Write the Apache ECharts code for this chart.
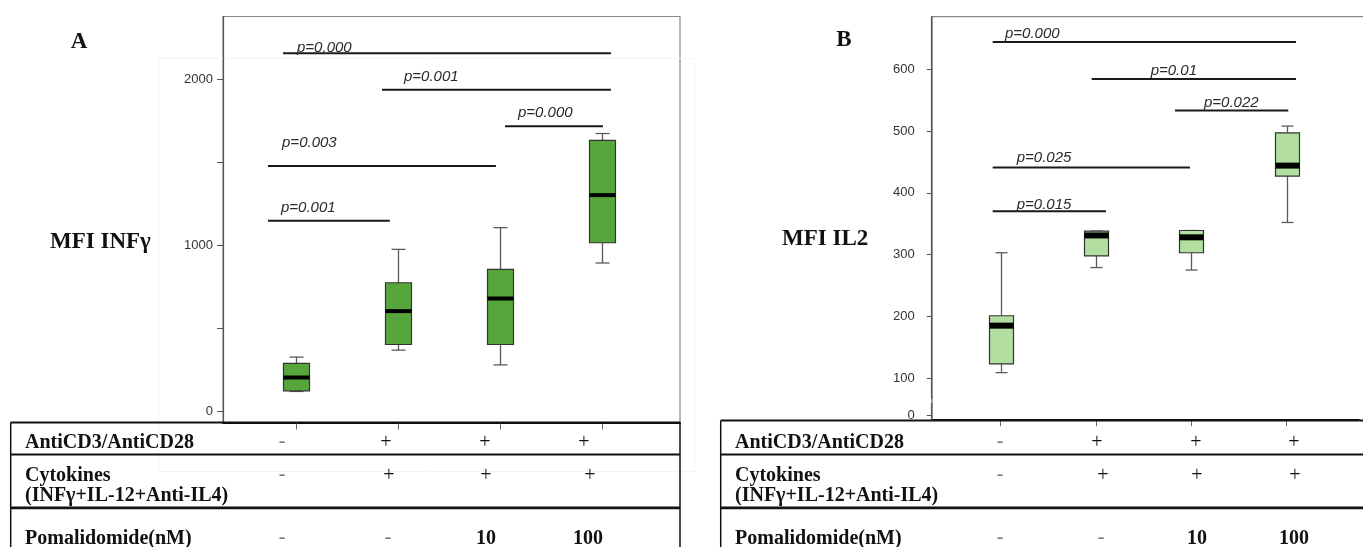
<!DOCTYPE html>
<html><head><meta charset="utf-8">
<script src="https://cdn.jsdelivr.net/npm/echarts@6/dist/echarts.min.js"></script>
<style>html,body{margin:0;padding:0;background:#fff}#c{width:1363px;height:547px}</style>
</head><body><div id="c"></div>
<script>
// ---------- data ----------
const categories = ['Unstimulated', 'AntiCD3/AntiCD28 + Cytokines', 'Pomalidomide 10 nM', 'Pomalidomide 100 nM'];

// Panel A: MFI INFγ (box statistics: min, q1, median, q3, max)
const infgMin = [121, 370, 281, 895];
const infgQ1  = [125, 404, 404, 1017];
const infgMed = [205, 605, 681, 1304];
const infgQ3  = [290, 776, 856, 1634];
const infgMax = [328, 977, 1108, 1675];

// Panel B: MFI IL2
const il2Min = [109, 279, 275, 352];
const il2Q1  = [123, 298, 303, 427];
const il2Med = [185, 331, 328, 444];
const il2Q3  = [201, 338, 339, 497];
const il2Max = [303, 338, 339, 508];

// axis ticks / labels
const yTicksA  = [0, 500, 1000, 1500, 2000];
const yLabelsA = [0, 1000, 2000];
const yTicksB  = [0, 100, 200, 300, 400, 500, 600];
const xTicks   = [1, 2, 3, 4];

// significance brackets (in data units: group position & value)
const pTextA  = ['p=0.000', 'p=0.001', 'p=0.000', 'p=0.003', 'p=0.001'];
const pFromA  = [0.873, 1.843, 3.049, 0.725, 0.725];
const pToA    = [4.088, 4.088, 4.010, 2.960, 1.920];
const pLevelA = [2158, 1938, 1719, 1480, 1149];
const pLabXA  = [1.010, 2.059, 3.176, 0.863, 0.853];
const pLabYA  = [2190, 2015, 1798, 1617, 1226];

const pTextB  = ['p=0.000', 'p=0.01', 'p=0.022', 'p=0.025', 'p=0.015'];
const pFromB  = [0.916, 1.955, 2.829, 0.916, 0.916];
const pToB    = [4.099, 4.099, 4.018, 2.986, 2.105];
const pLevelB = [644, 584, 533, 441, 370];
const pLabXB  = [1.045, 2.574, 3.133, 1.168, 1.168];
const pLabYB  = [658, 597, 546, 457, 381];

// condition table
const rowLabels    = ['AntiCD3/AntiCD28', 'Cytokines\n(INFγ+IL-12+Anti-IL4)', 'Pomalidomide(nM)'];
const antiCD3      = ['-', '+', '+', '+'];
const cytokines    = ['-', '+', '+', '+'];
const pomalidomide = ['-', '-', '10', '100'];

// ---------- layout ----------
const SANS = '"Liberation Sans", Arial, sans-serif';
const SERIF = '"Liberation Serif", "Times New Roman", serif';

const chart = echarts.init(document.getElementById('c'), null, {renderer: 'canvas'});

function boxData(mn, q1, md, q3, mx) {
  return categories.map((c, i) => [i + 1, mn[i], q1[i], md[i], q3[i], mx[i]]);
}
function boxRenderer(boxW, capW, medH, fill) {
  return function (params, api) {
    const x = api.value(0);
    const pLo = api.coord([x, api.value(1)]);
    const pQ1 = api.coord([x, api.value(2)]);
    const pMd = api.coord([x, api.value(3)]);
    const pQ3 = api.coord([x, api.value(4)]);
    const pHi = api.coord([x, api.value(5)]);
    const cx = Math.round(pLo[0]) + 0.5;
    const wl = {stroke: '#5a5a5a', lineWidth: 1.3};
    return {type: 'group', children: [
      {type: 'line', shape: {x1: cx, y1: pHi[1], x2: cx, y2: pQ3[1]}, style: wl},
      {type: 'line', shape: {x1: cx, y1: pQ1[1], x2: cx, y2: pLo[1]}, style: wl},
      {type: 'line', shape: {x1: cx - capW / 2, y1: pHi[1], x2: cx + capW / 2, y2: pHi[1]}, style: wl},
      {type: 'line', shape: {x1: cx - capW / 2, y1: pLo[1], x2: cx + capW / 2, y2: pLo[1]}, style: wl},
      {type: 'rect', shape: {x: cx - boxW / 2, y: pQ3[1], width: boxW, height: pQ1[1] - pQ3[1]},
        style: {fill: fill, stroke: '#333', lineWidth: 1.2}},
      {type: 'rect', shape: {x: cx - boxW / 2, y: pMd[1] - medH / 2, width: boxW, height: medH},
        style: {fill: '#000'}}
    ]};
  };
}
function bracketData(from, to, level, lx, ly) {
  return from.map((f, i) => [f, to[i], level[i], lx[i], ly[i]]);
}
function bracketRenderer(texts) {
  return function (params, api) {
    const a = api.coord([api.value(0), api.value(2)]);
    const b = api.coord([api.value(1), api.value(2)]);
    const t = api.coord([api.value(3), api.value(4)]);
    return {type: 'group', children: [
      {type: 'line', shape: {x1: a[0], y1: a[1], x2: b[0], y2: b[1]}, style: {stroke: '#1a1a1a', lineWidth: 2}},
      {type: 'text', x: t[0], y: t[1], style: {text: texts[params.dataIndex], fill: '#2a2a2a',
        font: 'italic 15px ' + SANS, align: 'left', verticalAlign: 'middle'}}
    ]};
  };
}

// table graphics
const rowY = [443, 476, 539];
const colXA = [[282, 386, 485, 584], [282, 389, 486, 590], [282, 388, 486, 588]];
const colXB = [[1000, 1097, 1196, 1294], [1000, 1103, 1197, 1295], [1000, 1101, 1197, 1294]];
function tableGraphics(left, right, top, labelX, colX) {
  const els = [];
  const ln = (x1, y1, x2, y2, w) => els.push({type: 'line', silent: true, z: 5,
    shape: {x1, y1, x2, y2}, style: {stroke: '#111', lineWidth: w}});
  ln(left, top, right, top, 2.2);
  ln(left, 454.5, right, 454.5, 1.8);
  ln(left, 507.8, right, 507.8, 2.8);
  ln(left, top, left, 547, 1.5);
  ln(right, top, right, 547, 1.5);
  rowLabels.forEach((lab, r) => {
    lab.split('\n').forEach((part, k) => {
      els.push({type: 'text', silent: true, z: 6, x: labelX, y: rowY[r] + k * 20,
        style: {text: part, font: 'bold 20px ' + SERIF, fill: '#111', align: 'left', verticalAlign: 'middle'}});
    });
  });
  [antiCD3, cytokines, pomalidomide].forEach((vals, r) => {
    vals.forEach((v, c) => {
      const isDash = v === '-';
      const bold = v !== '-' && v !== '+';
      els.push({type: 'text', silent: true, z: 6, x: colX[r][c], y: rowY[r] - (isDash ? 1 : 0),
        style: {text: v, font: (bold ? 'bold ' : '') + '20px ' + SERIF, fill: isDash ? '#777' : '#111',
          align: 'center', verticalAlign: 'middle'}});
    });
  });
  return els;
}

const graphics = [
  {type: 'rect', silent: true, z: 0, shape: {x: 158.5, y: 58.5, width: 536, height: 413},
    style: {fill: 'none', stroke: '#f4f4f4', lineWidth: 1}},
  // frame of panel B: top edge (right side runs off the page) and continuous left edge
  {type: 'line', silent: true, z: 100, shape: {x1: 931.7, y1: 16.7, x2: 1363, y2: 16.7},
    style: {stroke: '#888', lineWidth: 1.2}},
  {type: 'line', silent: true, z: 100, shape: {x1: 932, y1: 16.7, x2: 932, y2: 420.5},
    style: {stroke: '#555', lineWidth: 1.2}},
  {type: 'text', silent: true, x: 79, y: 42, style: {text: 'A', font: 'bold 23px ' + SERIF, fill: '#111', align: 'center', verticalAlign: 'middle'}},
  {type: 'text', silent: true, x: 844, y: 40, style: {text: 'B', font: 'bold 23px ' + SERIF, fill: '#111', align: 'center', verticalAlign: 'middle'}},
  {type: 'text', silent: true, x: 50, y: 242, style: {text: 'MFI INFγ', font: 'bold 23px ' + SERIF, fill: '#111', align: 'left', verticalAlign: 'middle'}},
  {type: 'text', silent: true, x: 782, y: 239, style: {text: 'MFI IL2', font: 'bold 23px ' + SERIF, fill: '#111', align: 'left', verticalAlign: 'middle'}}
].concat(tableGraphics(10.7, 680, 422.5, 25, colXA))
 .concat(tableGraphics(720.7, 1372, 420.5, 735, colXB));

const axisLabelStyle = {fontSize: 13, color: '#333', fontFamily: SANS, formatter: v => String(v)};

chart.setOption({
  animation: false,
  backgroundColor: '#fff',
  grid: [
    {left: 223, top: 16.5, width: 457, height: 406, show: true, borderColor: '#888', borderWidth: 1.2, backgroundColor: 'transparent'},
    {left: 931.7, top: 16.7, width: 427, height: 403.5, show: false}
  ],
  xAxis: [
    {type: 'value', gridIndex: 0, min: 0.2843, max: 4.765, splitLine: {show: false},
      axisLine: {show: true, onZero: false, lineStyle: {color: '#111', width: 2}},
      axisTick: {show: true, length: 7, customValues: xTicks, lineStyle: {color: '#666'}},
      axisLabel: {show: false}},
    {type: 'value', gridIndex: 1, min: 0.276, max: 4.757, splitLine: {show: false},
      axisLine: {show: true, onZero: false, lineStyle: {color: '#111', width: 2}},
      axisTick: {show: true, length: 6, customValues: xTicks, lineStyle: {color: '#666'}},
      axisLabel: {show: false}}
  ],
  yAxis: [
    {type: 'value', gridIndex: 0, min: -66, max: 2380, splitLine: {show: false},
      axisLine: {show: true, onZero: false, lineStyle: {color: '#555', width: 1.2}},
      axisTick: {show: true, length: 6, customValues: yTicksA, lineStyle: {color: '#555'}},
      axisLabel: Object.assign({customValues: yLabelsA, margin: 10}, axisLabelStyle)},
    {type: 'value', gridIndex: 1, min: -8, max: 685, splitLine: {show: false},
      breaks: [{start: 20, end: 68, gap: 8}],
      breakArea: {show: false},
      axisLine: {show: true, onZero: false, lineStyle: {color: '#555', width: 1.2}},
      axisTick: {show: true, length: 5, customValues: yTicksB, lineStyle: {color: '#555'}},
      axisLabel: Object.assign({customValues: yTicksB, margin: 17}, axisLabelStyle)}
  ],
  graphic: {elements: graphics},
  series: [
    {type: 'custom', name: 'MFI INFγ', xAxisIndex: 0, yAxisIndex: 0, clip: false,
      encode: {x: 0, y: [1, 2, 3, 4, 5]},
      data: boxData(infgMin, infgQ1, infgMed, infgQ3, infgMax),
      renderItem: boxRenderer(26, 14, 4, '#56a63b')},
    {type: 'custom', name: 'MFI IL2', xAxisIndex: 1, yAxisIndex: 1, clip: false,
      encode: {x: 0, y: [1, 2, 3, 4, 5]},
      data: boxData(il2Min, il2Q1, il2Med, il2Q3, il2Max),
      renderItem: boxRenderer(24, 12, 6, '#b2dfa0')},
    {type: 'custom', name: 'p A', xAxisIndex: 0, yAxisIndex: 0, clip: false,
      encode: {x: [0, 1], y: 2},
      data: bracketData(pFromA, pToA, pLevelA, pLabXA, pLabYA),
      renderItem: bracketRenderer(pTextA)},
    {type: 'custom', name: 'p B', xAxisIndex: 1, yAxisIndex: 1, clip: false,
      encode: {x: [0, 1], y: 2},
      data: bracketData(pFromB, pToB, pLevelB, pLabXB, pLabYB),
      renderItem: bracketRenderer(pTextB)}
  ]
});
</script>
</body></html>
